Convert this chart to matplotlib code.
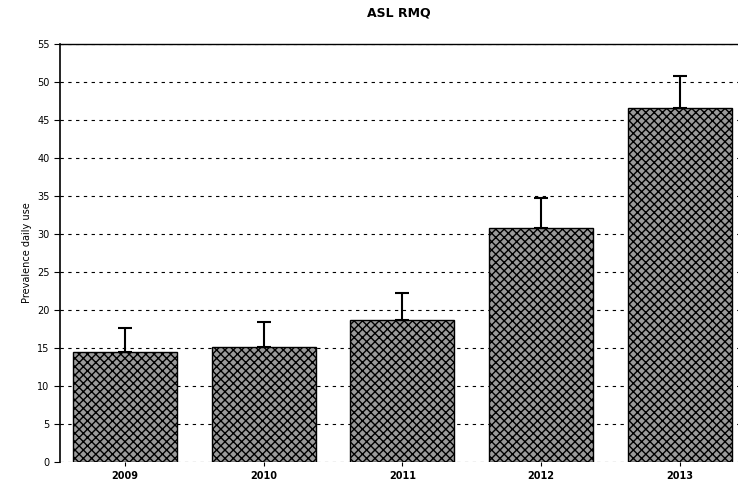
import matplotlib
matplotlib.use("Agg")
import matplotlib.pyplot as plt
import numpy as np

years = ["2009", "2010", "2011", "2012", "2013"]
values = [14.5, 15.1, 18.7, 30.8, 46.6]
err_upper = [3.1, 3.3, 3.5, 3.9, 4.2]
yticks = [0, 5, 10, 15, 20, 25, 30, 35, 40, 45, 50, 55]

plt.rcParams['hatch.linewidth'] = 1.0
fig = plt.figure(figsize=(7.38, 4.84), dpi=100)
ax = fig.add_axes([60/738, 1 - 462/484, (738-60)/738, (462-44)/484])

x = np.arange(len(years))
ax.set_axisbelow(True)
ax.yaxis.grid(True, linestyle=(0, (3, 4)), color="black", linewidth=0.8)
bars = ax.bar(x, values, width=0.75, facecolor="#9a9a9a", edgecolor="black",
              hatch="xxxx", linewidth=1.0)
ax.errorbar(x, values, yerr=[np.zeros(len(values)), err_upper], fmt="none",
            ecolor="black", elinewidth=1.5, capsize=5, capthick=1.5)

ax.set_xlim(-0.47, 4.42)
ax.set_ylim(0, 55)
ax.set_yticks(yticks)
ax.set_xticks(x)
ax.set_xticklabels(years, fontsize=7, fontweight="bold")
ax.tick_params(axis="y", labelsize=7, length=4, direction="out")
ax.tick_params(axis="x", length=3, direction="out")
for s in ["right", "bottom"]:
    ax.spines[s].set_visible(False)
ax.spines["top"].set_linewidth(1.0)
ax.spines["left"].set_linewidth(1.2)
ax.set_ylabel("Prevalence daily use", fontsize=7)
ax.set_title("ASL RMQ", fontsize=9, fontweight="bold", pad=20)
fig.savefig("out.png", dpi=100)
